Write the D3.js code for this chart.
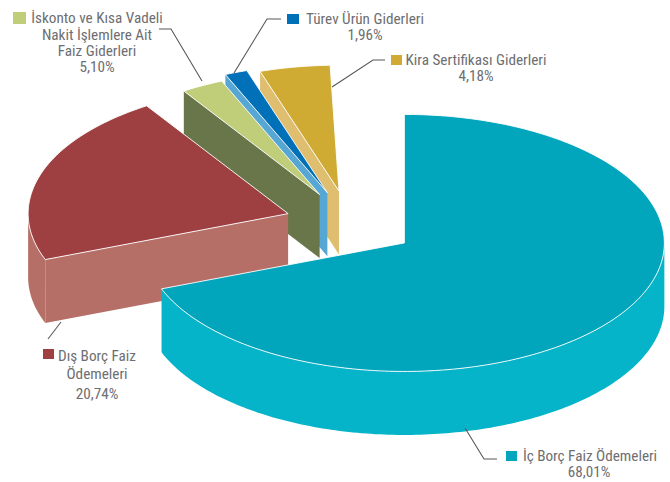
<!DOCTYPE html>
<html><head><meta charset="utf-8">
<script src="https://cdn.jsdelivr.net/npm/d3@7"></script>
<style>html,body{margin:0;padding:0;background:#fff}svg{display:block}
text{font-family:"Liberation Sans Narrow","Roboto Condensed","Liberation Sans",sans-serif;font-size:15.2px;fill:#6d6e71}</style>
</head><body><svg id="c" width="670" height="482"></svg>
<script>
// data, clockwise from twelve o'clock
const categories = ["İç Borç Faiz Ödemeleri","Dış Borç Faiz Ödemeleri","İskonto ve Kısa Vadeli Nakit İşlemlere Ait Faiz Giderleri","Türev Ürün Giderleri","Kira Sertifikası Giderleri"];
const values = [68.01,20.74,5.10,1.96,4.18];
const valueLabels = ["68,01%","20,74%","5,10%","1,96%","4,18%"];
const topColors  = ["#01a6bd","#9e3f41","#c0cd79","#0071b8","#cfab33"];
const wallColors = ["#05b4c8","#b66f67","#69764a","#57a7d5","#dfbe6f"];
// the drawn pie is slightly skewed: correction (deg) at each slice boundary, rim scale per slice
const edgeSkew = [0,4.2,7.5,-1,-3,-2];
const rimScale = [1,1,0.96,1,0.98];

const W=670,H=482, cx=350.4, cy=224, rx=260, ry=128.5, depth=63.5, explode=65.5, squash=0.51;
const svg=d3.select("#c");
const rad=d=>d*Math.PI/180;
const arcs=d3.pie().sort(null).value(d=>d).startAngle(0).endAngle(2*Math.PI)(values);
const line=d3.line();

const slices=arcs.map((a,i)=>{
  const s=a.startAngle+rad(edgeSkew[i]), e=a.endAngle+rad(edgeSkew[i+1]);
  const m=(s+e)/2;
  const ox=cx+explode*Math.sin(m), oy=cy-explode*squash*Math.cos(m);
  const q=rimScale[i];
  const P=(t,dz=0)=>[ox+q*rx*Math.sin(t), oy-q*ry*Math.cos(t)+dz];
  return {i,s,e,m,ox,oy,P};
});
const samples=(s,e)=>{const n=Math.max(2,Math.ceil((e-s)/rad(1)));return d3.range(n+1).map(k=>s+(e-s)*k/n);};

// painter's order: back slices first, the large front slice last
[4,3,2,1,0].forEach(idx=>{
  const S=slices[idx], g=svg.append("g");
  // outer rim wall
  const vs=Math.max(S.s,Math.PI/2), ve=Math.min(S.e,3*Math.PI/2);
  if(ve>vs){
    const ts=samples(vs,ve);
    const pts=ts.map(t=>S.P(t)).concat(ts.slice().reverse().map(t=>S.P(t,depth)));
    g.append("path").attr("d",line(pts)+"Z").attr("fill",wallColors[idx]);
  }
  // radial cut wall on the slice's leading edge
  if(S.s>Math.PI && S.s<2*Math.PI){
    const pts=[S.P(S.s),[S.ox,S.oy],[S.ox,S.oy+depth],S.P(S.s,depth)];
    g.append("path").attr("d",line(pts)+"Z").attr("fill",wallColors[idx]);
  }
  // top face
  const top=[[S.ox,S.oy]].concat(samples(S.s,S.e).map(t=>S.P(t)));
  g.append("path").attr("d",line(top)+"Z").attr("fill",topColors[idx])
    .attr("stroke","#fff").attr("stroke-width",0.9).attr("stroke-linejoin","round");
});

// leader lines
const leaderLines=[
  [[465,428],[484,459],[497,459]],
  [[61,322],[48,339]],
  [[159,29],[171,29],[202,81]],
  [[281,19],[267,19],[234,73]],
  [[385,60],[373,60],[332,87]]
];
leaderLines.forEach(l=>svg.append("path").attr("d",line(l)).attr("fill","none").attr("stroke","#58595b").attr("stroke-width",1.1));

// legend swatches and label text
const swatches=[[506,451,11,10],[43,349,11,10],[13,12,13,12],[287,14,12,10],[391,55,11,10]];
swatches.forEach((r,i)=>svg.append("rect").attr("x",r[0]).attr("y",r[1]).attr("width",r[2]).attr("height",r[3]).attr("fill",topColors[i]));
const labelLines=[
  [["İç Borç Faiz Ödemeleri",590,461],[valueLabels[0],589,477]],
  [["Dış Borç Faiz",97,361],["Ödemeleri",97,379],[valueLabels[1],97,399]],
  [["İskonto ve Kısa Vadeli",97,23],["Nakit İşlemlere Ait",97,40],["Faiz Giderleri",97,56],[valueLabels[2],97,72]],
  [["Türev Ürün Giderleri",365,24],[valueLabels[3],365,40]],
  [["Kira Sertifikası Giderleri",476,65],[valueLabels[4],476,81]]
];
labelLines.forEach(ls=>ls.forEach(t=>svg.append("text").attr("x",t[1]).attr("y",t[2]).attr("text-anchor","middle").text(t[0])));
</script></body></html>
